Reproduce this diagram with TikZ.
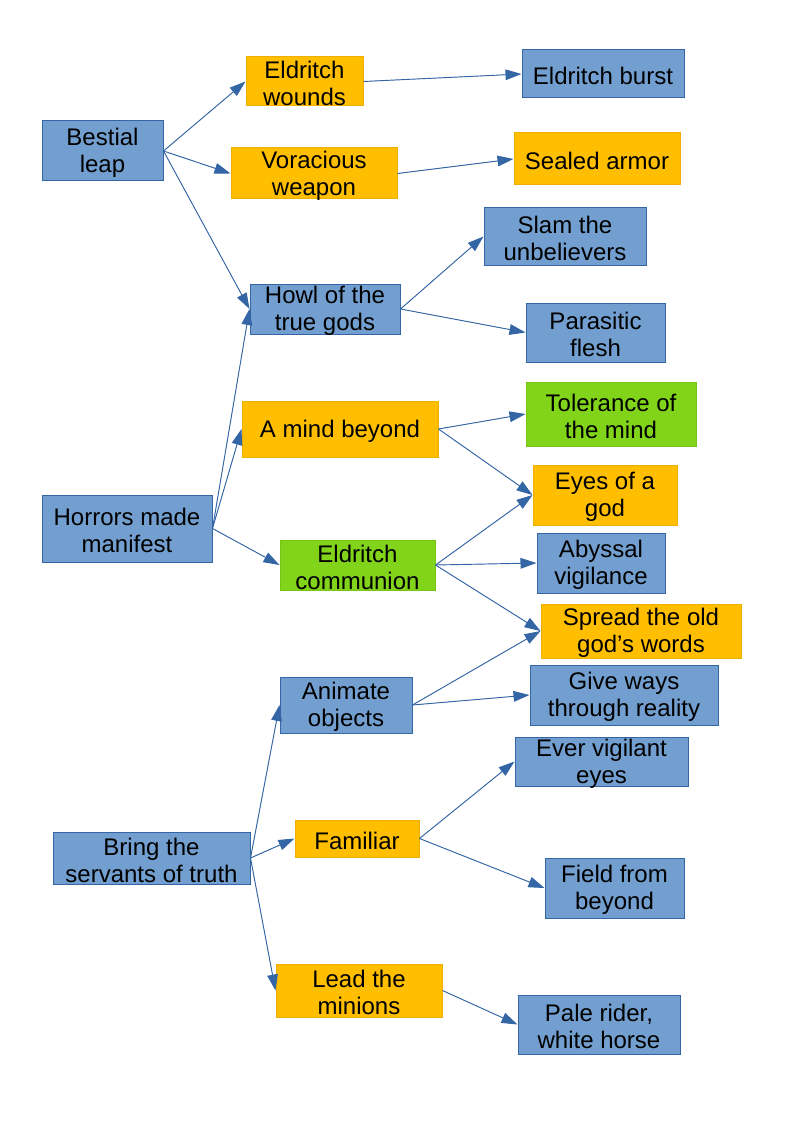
\documentclass[tikz,border=0pt]{standalone}
\usepackage{fontspec}
\setmainfont{Liberation Sans}
\usetikzlibrary{arrows.meta}
\definecolor{bfill}{HTML}{729FCF}
\definecolor{bline}{HTML}{3465A4}
\definecolor{ofill}{HTML}{FFBF00}
\definecolor{oline}{HTML}{F0AE00}
\definecolor{gfill}{HTML}{81D41A}
\definecolor{gline}{HTML}{77C416}
\tikzset{
  box/.style={rectangle, inner sep=0pt, line width=0.75pt},
  boxtext/.style={inner sep=0pt, align=center, font=\fontsize{18}{20.3}\selectfont, text=black},
  bluebox/.style={box, fill=bfill, draw=bline},
  orangebox/.style={box, fill=ofill, draw=oline},
  greenbox/.style={box, fill=gfill, draw=gline},
  conn/.style={draw=bline, line width=0.7pt, -{Triangle[length=12pt,width=8pt]}, fill=bline},
}
\newcommand\mybox[7]{%
  \node[#2, minimum width={(#5-#3)*0.75pt}, minimum height={(#6-#4)*0.75pt}]
    (#1) at ({(#3+#5)/2},{(#4+#6)/2}) {};
  \node[boxtext] (#1-t) at ([yshift=-1.6pt]#1.center) {#7};}
\begin{document}
\begin{tikzpicture}[x=0.75pt,y=-0.75pt]
\useasboundingbox (0,0) rectangle (794,1123);
\mybox{bestial}{bluebox}{42}{121}{163}{181}{Bestial\\leap}
\mybox{wounds}{orangebox}{246}{57}{363}{106}{Eldritch\\wounds}
\mybox{burst}{bluebox}{522}{50}{684}{98}{Eldritch burst}
\mybox{voracious}{orangebox}{231}{148}{397}{199}{Voracious\\weapon}
\mybox{sealed}{orangebox}{514}{133}{680}{185}{Sealed armor}
\mybox{slam}{bluebox}{484}{208}{646}{265}{Slam the\\unbelievers}
\mybox{howl}{bluebox}{250}{284}{400}{334}{Howl of the\\true gods}
\mybox{parasitic}{bluebox}{526}{303}{665}{362}{Parasitic\\flesh}
\mybox{mind}{orangebox}{242}{401}{438}{457}{A mind beyond}
\mybox{tolerance}{greenbox}{526}{382}{696}{446}{Tolerance of\\the mind}
\mybox{eyes}{orangebox}{533}{465}{677}{525}{Eyes of a\\god}
\mybox{horrors}{bluebox}{42}{495}{212}{562}{Horrors made\\manifest}
\mybox{communion}{greenbox}{280}{540}{435}{590}{Eldritch\\communion}
\mybox{abyssal}{bluebox}{537}{533}{665}{593}{Abyssal\\vigilance}
\mybox{spread}{orangebox}{541}{604}{741}{658}{Spread the old\\god’s words}
\mybox{animate}{bluebox}{280}{677}{412}{733}{Animate\\objects}
\mybox{give}{bluebox}{530}{665}{718}{725}{Give ways\\through reality}
\mybox{ever}{bluebox}{515}{737}{688}{786}{Ever vigilant\\eyes}
\mybox{bring}{bluebox}{53}{832}{250}{884}{Bring the\\servants of truth}
\mybox{familiar}{orangebox}{295}{820}{419}{857}{Familiar}
\mybox{field}{bluebox}{545}{858}{684}{918}{Field from\\beyond}
\mybox{lead}{orangebox}{276}{964}{442}{1017}{Lead the\\minions}
\mybox{pale}{bluebox}{518}{995}{680}{1054}{Pale rider,\\white horse}
\draw[conn] (bestial.east) -- (wounds.west);
\draw[conn] (bestial.east) -- (voracious.west);
\draw[conn] (bestial.east) -- (howl.west);
\draw[conn] (wounds.east) -- (burst.west);
\draw[conn] (voracious.east) -- (sealed.west);
\draw[conn] (howl.east) -- (slam.west);
\draw[conn] (howl.east) -- (parasitic.west);
\draw[conn] (horrors.east) -- (howl.west);
\draw[conn] (horrors.east) -- (mind.west);
\draw[conn] (horrors.east) -- (communion.west);
\draw[conn] (mind.east) -- (tolerance.west);
\draw[conn] (mind.east) -- (eyes.west);
\draw[conn] (communion.east) -- (eyes.west);
\draw[conn] (communion.east) -- (abyssal.west);
\draw[conn] (communion.east) -- (spread.west);
\draw[conn] (animate.east) -- (spread.west);
\draw[conn] (animate.east) -- (give.west);
\draw[conn] (bring.east) -- (animate.west);
\draw[conn] (bring.east) -- (familiar.west);
\draw[conn] (bring.east) -- (lead.west);
\draw[conn] (familiar.east) -- (ever.west);
\draw[conn] (familiar.east) -- (field.west);
\draw[conn] (lead.east) -- (pale.west);
\end{tikzpicture}
\end{document}
